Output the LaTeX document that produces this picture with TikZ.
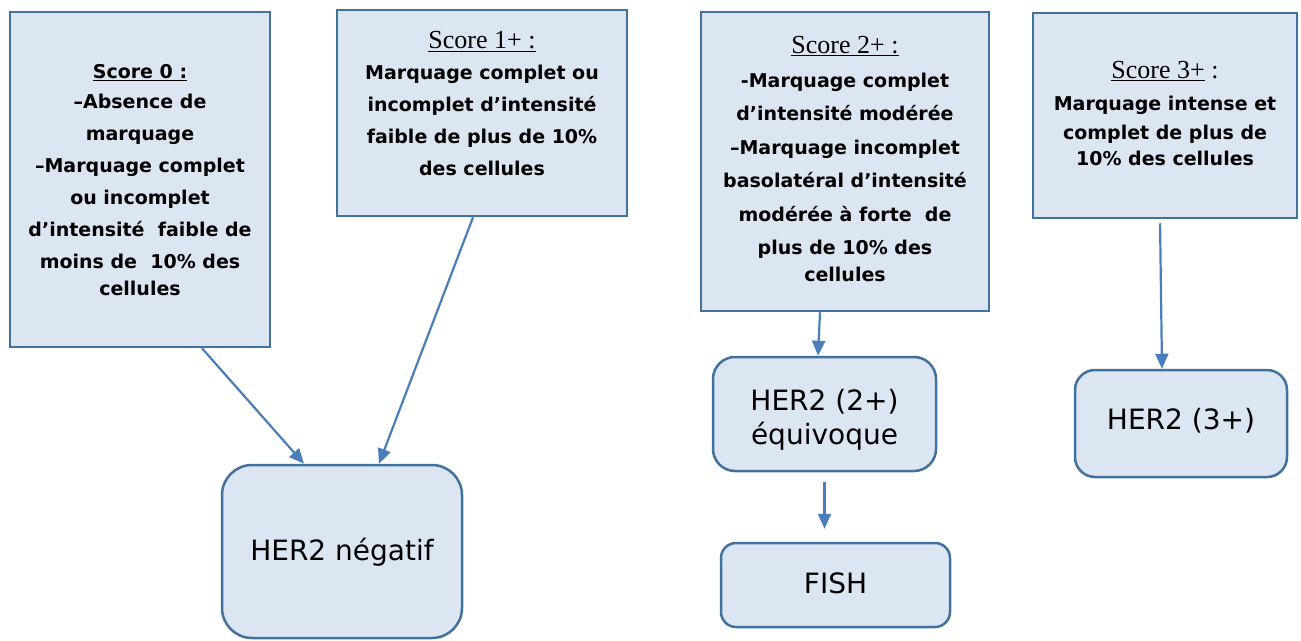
\documentclass[tikz,border=0pt]{standalone}
\usepackage{fontspec}
\setmainfont{DejaVu Sans}
\newfontfamily\serifl{Liberation Serif}
\newcommand\scorefont{\fontsize{26}{30}\selectfont\serifl\mdseries}
\usetikzlibrary{arrows.meta}
\definecolor{boxfill}{HTML}{DCE6F2}
\definecolor{boxline}{HTML}{41719C}
\definecolor{arr}{HTML}{4A7EBB}
\begin{document}
\begin{tikzpicture}[x=1pt,y=-1pt,
 box/.style={draw=boxline, fill=boxfill, line width=2.5pt, inner sep=0pt},
 rbox/.style={box, rounded corners=#1},
 txt/.style={align=center, font=\fontsize{19}{32}\selectfont\bfseries},
 big/.style={align=center, font=\fontsize{28}{34}\selectfont},
 conn/.style={draw=arr, line width=2.2pt, -{Triangle[length=15pt,width=13pt]}}]
\useasboundingbox (0,0) rectangle (1301,640);
% boxes
\node[box, minimum width=260pt, minimum height=335pt] (b0) at (140,179.5) {};
\node[box, minimum width=290pt, minimum height=206pt] (b1) at (482,113) {};
\node[box, minimum width=288pt, minimum height=299pt] (b2) at (845,161.5) {};
\node[box, minimum width=264pt, minimum height=205pt] (b3) at (1165,115.5) {};
\node[rbox=30pt, minimum width=240pt, minimum height=173pt] (neg) at (342,551.5) {};
\node[rbox=22pt, minimum width=223pt, minimum height=114pt] (e2) at (824.5,414) {};
\node[rbox=15pt, minimum width=229pt, minimum height=84pt] (fish) at (835.5,585) {};
\node[rbox=20pt, minimum width=212pt, minimum height=107pt] (h3) at (1181,423.5) {};
% texts
\node[txt] (t0) at (140,180) {\underline{Score 0 :}\\[-2pt] –Absence de\\ marquage\\ –Marquage complet\\ ou incomplet\\ d’intensité\ \ faible de\\ moins de\ \ 10\% des\\[-5pt] cellules};
\node[txt] (t1) at (482,104) {{\scorefont\underline{Score 1+ :}}\\[-1pt] Marquage complet ou\\ incomplet d’intensité\\ faible de plus de 10\%\\ des cellules};
\node[txt, font=\fontsize{19}{33.5}\selectfont\bfseries] (t2) at (845,159) {{\scorefont\underline{Score 2+ :}}\\ -Marquage complet\\ d’intensité modérée\\ –Marquage incomplet\\ basolatéral d’intensité\\ modérée à forte\ \ de\\ plus de 10\% des\\[-7pt] cellules};
\node[txt, font=\fontsize{19}{29}\selectfont\bfseries] (t3) at (1165,114) {{\scorefont\underline{Score 3+} :}\\[3pt] Marquage intense et\\ complet de plus de\\[-3pt] 10\% des cellules};
\node[big] (tn) at (342,552) {HER2 négatif};
\node[big] (te) at (824.5,420) {HER2 (2+)\\ équivoque};
\node[big] (tf) at (835.5,583) {FISH};
\node[big] (th) at (1181,421) {HER2 (3+)};
% connectors
\draw[conn] ([xshift=62pt]b0.south) -- ([xshift=-38pt]neg.north);
\draw[conn] ([xshift=-9pt]b1.south) -- ([xshift=37pt]neg.north);
\draw[conn] ([xshift=-25pt]b2.south) -- ([xshift=-6.5pt]e2.north);
\draw[conn, shorten <=10pt, shorten >=13pt] (e2.south) -- (e2.south |- fish.north);
\draw[conn, shorten <=4pt] ([xshift=-5pt]b3.south) -- ([xshift=-19pt]h3.north);
\end{tikzpicture}
\end{document}
